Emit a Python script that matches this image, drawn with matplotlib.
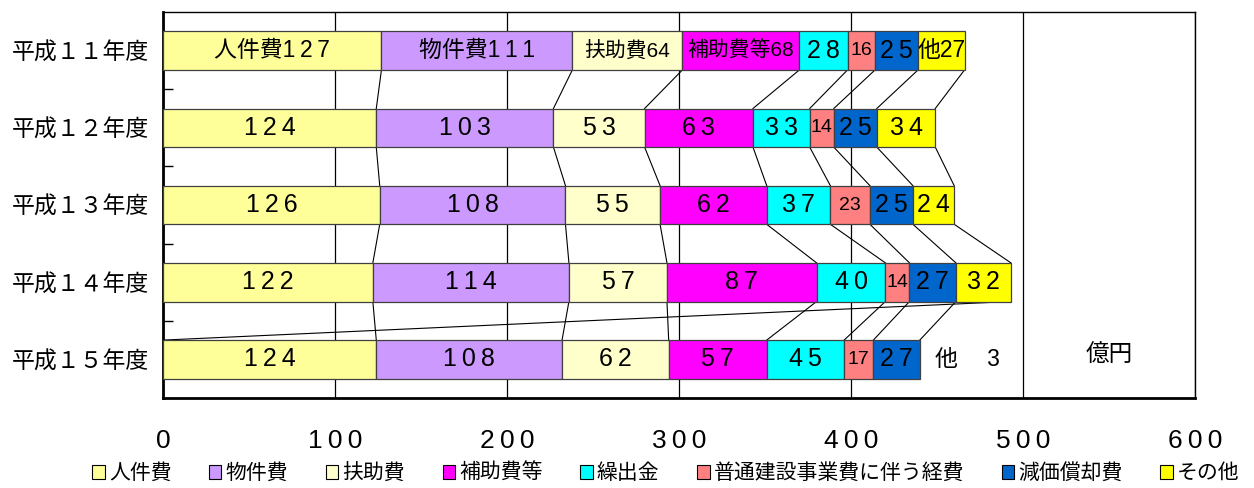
import matplotlib
matplotlib.use("Agg")
import matplotlib.pyplot as plt
from matplotlib.patches import Patch
from matplotlib.ticker import FixedLocator

plt.rcParams['font.family'] = ['Liberation Sans', 'Noto Sans CJK JP', 'DejaVu Sans']

# ---- data (億円) ----
years = ['平成１１年度', '平成１２年度', '平成１３年度', '平成１４年度', '平成１５年度']
names = ['人件費', '物件費', '扶助費', '補助費等', '繰出金',
         '普通建設事業費に伴う経費', '減価償却費', 'その他']
colors = ['#FFFF99', '#CC99FF', '#FFFFCC', '#FF00FF', '#00FFFF',
          '#FF8080', '#0066CC', '#FFFF00']

jinken = [127, 124, 126, 122, 124]
bukken = [111, 103, 108, 114, 108]
fujo = [64, 53, 55, 57, 62]
hojo = [68, 63, 62, 87, 57]
kuridashi = [28, 33, 37, 40, 45]
futsu = [16, 14, 23, 14, 17]
genka = [25, 25, 25, 27, 27]
sonota = [27, 34, 24, 32, None]   # H15: not drawn as a bar, noted beside it
sonota_h15 = 3

# first row labels carry the item name
first_prefix = ['人件費', '物件費', '扶助費', '補助費等', '', '', '', '他']
unit = '億円'

series = [jinken, bukken, fujo, hojo, kuridashi, futsu, genka, sonota]
xticks = [0, 100, 200, 300, 400, 500, 600]

THIN = '\u2009'

fig = plt.figure(figsize=(12.54, 4.88), dpi=100)
ax = fig.add_axes([163/1254, 1-398/488, (1195-163)/1254, (398-12)/488])

n = len(years)
ypos = list(range(n))
bh = 0.5

# cumulative boundaries (missing value -> series line drops to 0, as in the original)
cums = []
for i in range(n):
    row, c = [], 0
    for s in series:
        if s[i] is None:
            row.append(0)
        else:
            c += s[i]
            row.append(c)
    cums.append(row)

for j, s in enumerate(series):
    for i in range(n):
        v = s[i]
        if v is None:
            continue
        left = cums[i][j] - v
        ax.barh(i, v, left=left, height=bh, color=colors[j],
                edgecolor='#404040', linewidth=0.9, zorder=3)
        digits = str(v)
        if j == 5:
            txt, fs = digits, 14
        elif i == 0 and first_prefix[j] and j in (2, 3):
            txt, fs = first_prefix[j] + digits, 15
        elif i == 0 and first_prefix[j] == '他':
            txt, fs = first_prefix[j] + digits, 16.5
        elif i == 0 and first_prefix[j]:
            txt, fs = first_prefix[j] + THIN.join(digits), 16.5
        else:
            txt, fs = THIN.join(digits), 18
        ax.text(left + v/2, i, txt, ha='center', va='center',
                fontsize=fs, color='black', zorder=4)

# series lines between bars
for i in range(n-1):
    for j in range(len(series)):
        ax.plot([cums[i][j], cums[i+1][j]], [i + bh/2, i + 1 - bh/2],
                color='black', linewidth=0.8, zorder=2)

# H15 その他 note
ax.text(cums[4][6] + 9, 4, '他　 ' + str(sonota_h15), ha='left', va='center',
        fontsize=16.5, zorder=4)
ax.text(550, 3.95, unit, ha='center', va='center', fontsize=17)

ax.set_xlim(0, 600)
ax.set_ylim(n - 0.5, -0.5)
ax.set_xticks(xticks)
ax.set_xticklabels([THIN.join(str(t)) for t in xticks], fontsize=19)
ax.set_yticks(ypos)
ax.set_yticklabels(years, fontsize=16.5)
ax.yaxis.set_minor_locator(FixedLocator([k + 0.5 for k in range(n-1)]))
ax.tick_params(axis='y', which='major', length=0, pad=10)
ax.tick_params(axis='y', which='minor', direction='in', length=7, width=1)
ax.tick_params(axis='x', which='major', length=0, pad=22)

ax.grid(axis='x', color='black', linewidth=0.9, zorder=1)
ax.set_axisbelow(True)
for side in ('top', 'right'):
    ax.spines[side].set_linewidth(1.0)
for side in ('left', 'bottom'):
    ax.spines[side].set_linewidth(2.0)

handles = [Patch(facecolor=c, edgecolor='black', linewidth=0.8) for c in colors]
fig.legend(handles, names, loc='center', bbox_to_anchor=(0.531, 1 - 473/488),
           ncol=8, frameon=False, handlelength=0.6, handleheight=0.7,
           handletextpad=0.2, columnspacing=1.8, fontsize=15)

fig.savefig('out.png', dpi=100)
